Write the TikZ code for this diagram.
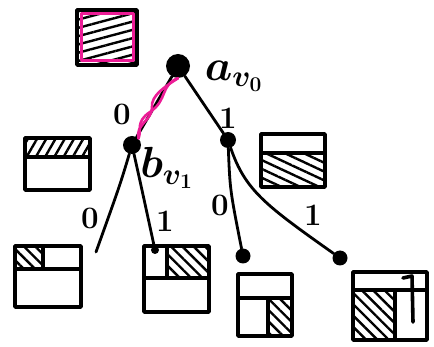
\documentclass[tikz,border=0pt]{standalone}
\usetikzlibrary{positioning,calc,patterns.meta}
\definecolor{hlpink}{HTML}{EC1C96}
\newcommand{\biglbl}[1]{\scalebox{1.75}{$#1$}}
\newcommand{\bitlbl}[1]{\scalebox{1.3}{#1}}
\begin{document}
\begin{tikzpicture}[x=1pt, y=-1pt,
      line cap=round, line join=round,
      vertex/.style={circle, fill=black, inner sep=0pt, minimum size=#1},
      vertex/.default=15pt,
      edge/.style={line width=2.8pt, draw=black},
      hl/.style={line width=2.6pt, draw=hlpink},
      cell/.style={line width=3.6pt, draw=black},
      hatch/.style={pattern={Lines[angle=#1, distance=8pt, line width=2.4pt]}},
      lbl/.style={font=\fontsize{24}{26}\selectfont\bfseries, inner sep=0pt},
      sub/.style={font=\fontsize{24}{26}\selectfont\boldmath, inner sep=0pt}
    ]
    \useasboundingbox (0,0) rectangle (434,347);

    % regions of the root
    \fill[hatch=15] (77,10) rectangle (137,65);
    \draw[hl, line width=3pt] (81,14) rectangle (133,61);
    \draw[cell] (77,10) rectangle (137,65);

    % regions of level one
    \fill[hatch=60] (25,138) rectangle (90,157);
    \draw[cell] (25,138) rectangle (90,190);
    \draw[cell] (25,157) -- (90,157);
    \fill[hatch=-25] (261,153) rectangle (325,187);
    \draw[cell] (261,134) rectangle (325,187);
    \draw[cell] (261,153) -- (325,153);

    % leaf regions
    \fill[hatch=-45] (15,246) rectangle (43,269);
    \draw[cell] (15,246) rectangle (81,307);
    \draw[cell] (15,269) -- (81,269) (43,246) -- (43,269);
    \fill[hatch=-45] (167,246) rectangle (209,278);
    \draw[cell] (144,246) rectangle (209,312);
    \draw[cell] (144,278) -- (209,278) (167,246) -- (167,278);
    \fill[hatch=-45] (268,298) rectangle (292,336);
    \draw[cell] (238,274) rectangle (292,336);
    \draw[cell] (238,298) -- (292,298) (268,298) -- (268,336);
    \fill[hatch=-45] (353,290) rectangle (395,340);
    \draw[cell] (353,272) rectangle (427,340);
    \draw[cell] (353,290) -- (427,290) (395,290) -- (395,340);
    \draw[cell] (403,278) -- (412,276) -- (413,322);

    % tree
    \node[vertex=24pt] (v0) at (178,66) {};
    \node[vertex=18pt] (v1) at (132,145) {};
    \node[vertex=16pt] (v2) at (228,140) {};
    \coordinate (v3) at (96,252);
    \node[vertex=8pt] (v4) at (155,250) {};
    \node[vertex=15pt] (v5) at (243,256) {};
    \node[vertex=15pt] (v6) at (340,258) {};

    \draw[edge] (v0) -- (v1);
    \draw[edge] (v0) -- (v2);
    \draw[edge] (v1) .. controls (120,185) .. (v3);
    \draw[edge] (v1) .. controls (142,190) .. (v4);
    \draw[edge] (v2) .. controls (230,190) .. (v5);
    \draw[edge] (v2) .. controls (245,190) and (265,205) .. (v6);

    % query path
    \draw[hl] (v0.south) .. controls (160,85) and (168,100) .. (150,112)
              .. controls (135,122) and (142,130) .. (v1.north east);
    \draw[hl] (v0.south) .. controls (168,85) and (150,95) .. (152,108)
              .. controls (152,120) and (135,125) .. (v1.north east);

    % labels
    \node[lbl] (l1) at (122,114) {\bitlbl{0}};
    \node[lbl] (l2) at (228,118) {\bitlbl{1}};
    \node[lbl] (l3) at (90,218) {\bitlbl{0}};
    \node[lbl] (l4) at (165,221) {\bitlbl{1}};
    \node[lbl] (l5) at (220,205) {\bitlbl{0}};
    \node[lbl] (l6) at (313,215) {\bitlbl{1}};
    \node[sub] (av) at (234,76) {\biglbl{a_{v_0}}};
    \node[sub] (bv) at (167,168) {\biglbl{b_{v_1}}};
  \end{tikzpicture}
\end{document}
